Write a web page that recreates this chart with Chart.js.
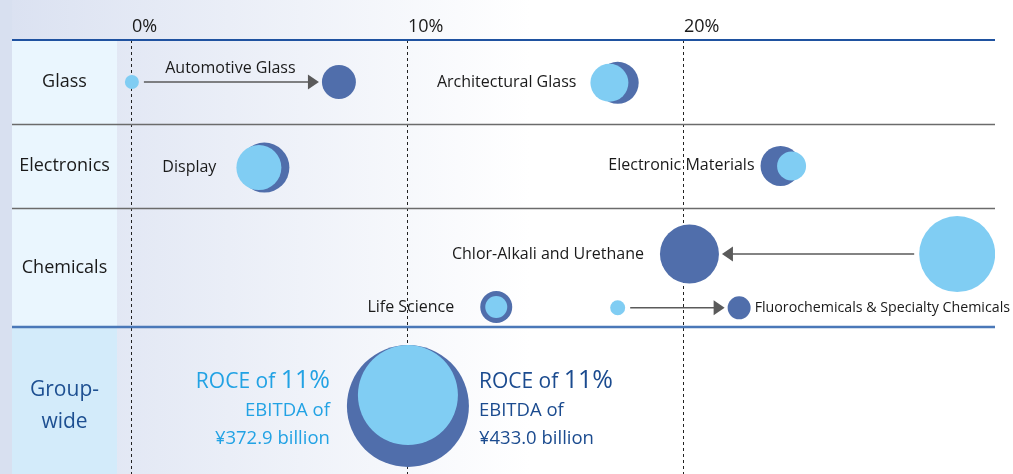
<!DOCTYPE html>
<html>
<head>
<meta charset="utf-8">
<script src="https://cdn.jsdelivr.net/npm/chart.js@4"></script>
<style>
  html, body { margin: 0; padding: 0; background: #fff; overflow: hidden; }
  canvas { display: block; }
</style>
</head>
<body>
<canvas id="roce" width="1013" height="474"></canvas>
<script>
// rows (left column) and where they sit on the y scale (1 unit = one short row)
const rows = ['Glass', 'Electronics', 'Chemicals', 'Group-wide']
const rowEdges = [0, 1, 2, 3.42, 5.17]

// segments, ROCE before (light) / after (dark), row position, bubble radius
const segments = ['Automotive Glass', 'Architectural Glass', 'Display', 'Electronic Materials',
                  'Chlor-Alkali and Urethane', 'Life Science', 'Fluorochemicals & Specialty Chemicals']
const roceBefore = [0.0, 17.3, 4.6, 23.9, 29.9, 13.2, 17.6]
const roceAfter  = [7.5, 17.6, 4.8, 23.5, 20.2, 13.2, 22.0]
const rowBefore  = [0.5, 0.51, 1.52, 1.5, 2.55, 3.18, 3.19]
const rowAfter   = [0.5, 0.51, 1.52, 1.5, 2.55, 3.18, 3.19]
const sizeBefore = [7, 19, 22.5, 14.5, 38, 11, 7.5]
const sizeAfter  = [17, 21, 25, 20, 29.5, 16, 11.5]
const arrows = [0, 4, 6]

// group-wide
const groupRoce = [10.0, 10.0]
const groupRow = [4.23, 4.36]
const groupSize = [50, 61]
const groupRoceText = ['11%', '11%']
const groupEbitda = ['¥372.9 billion', '¥433.0 billion']

const xTicks = [0, 10, 20]

// where each label sits next to its bubbles
const labelSide = ['above', 'left', 'left', 'left', 'left', 'left', 'right']
const labelGap  = [0, 14, 20, 6, 16, 26, 4]

const FONT = "'Open Sans', sans-serif"
const LIGHT = '#80cdf3'
const DARK = '#506eab'

function pts(xs, ys, rs){
    var out = []
    for(let i = 0; i < xs.length; i++){
        out.push({x: xs[i], y: ys[i], r: rs[i]})
    }
    return out
}

const fundo = {
    id: 'fundo',
    beforeDraw(chart){
        const ctx = chart.ctx
        const a = chart.chartArea
        const y = chart.scales.y
        ctx.save()
        const g = ctx.createLinearGradient(0, 0, 530, 0)
        g.addColorStop(0, '#dae1f1')
        g.addColorStop(1, '#ffffff')
        ctx.fillStyle = g
        ctx.fillRect(0, 0, chart.width, chart.height)
        ctx.fillStyle = '#d8e0f0'
        ctx.fillRect(0, 0, 12, chart.height)
        const yg = y.getPixelForValue(rowEdges[3])
        ctx.fillStyle = '#eaf6fe'
        ctx.fillRect(12, a.top, a.left - 12, yg - a.top)
        ctx.fillStyle = '#d3ebfa'
        ctx.fillRect(12, yg, a.left - 12, a.bottom - yg)
        ctx.restore()
    },
    beforeDatasetsDraw(chart){
        const ctx = chart.ctx
        const a = chart.chartArea
        const y = chart.scales.y
        ctx.save()
        // separators
        for(let i = 1; i < 3; i++){
            const py = Math.round(y.getPixelForValue(rowEdges[i])) + 0.5
            ctx.strokeStyle = '#6b6b6b'
            ctx.lineWidth = 1.5
            ctx.beginPath(); ctx.moveTo(12, py); ctx.lineTo(a.right, py); ctx.stroke()
        }
        let py = y.getPixelForValue(rowEdges[3])
        ctx.strokeStyle = '#4a78b8'
        ctx.lineWidth = 2.5
        ctx.beginPath(); ctx.moveTo(12, py); ctx.lineTo(a.right, py); ctx.stroke()
        ctx.strokeStyle = '#1f52a0'
        ctx.lineWidth = 2
        ctx.beginPath(); ctx.moveTo(12, a.top); ctx.lineTo(a.right, a.top); ctx.stroke()

        // row names
        ctx.textAlign = 'center'
        ctx.textBaseline = 'middle'
        ctx.fillStyle = '#1a1a1a'
        ctx.font = '18px ' + FONT
        const cx = (12 + a.left) / 2
        ctx.fillText(rows[0], cx, y.getPixelForValue(0.5))
        ctx.fillText(rows[1], cx, y.getPixelForValue(1.5))
        ctx.fillText(rows[2], cx, y.getPixelForValue(2.71))
        ctx.fillStyle = '#1d4f91'
        ctx.font = '21px ' + FONT
        ctx.fillText('Group-', cx, y.getPixelForValue(4.17))
        ctx.fillText('wide', cx, y.getPixelForValue(4.55))
        ctx.restore()
    },
    afterDatasetsDraw(chart){
        const ctx = chart.ctx
        const light = chart.getDatasetMeta(0).data
        const dark = chart.getDatasetMeta(1).data
        ctx.save()

        // arrows light -> dark
        ctx.strokeStyle = '#5a5a5a'
        ctx.fillStyle = '#5a5a5a'
        ctx.lineWidth = 1.5
        arrows.forEach(function(i){
            const p = light[i], q = dark[i]
            const dir = q.x > p.x ? 1 : -1
            const x0 = p.x + dir * (sizeBefore[i] + 5)
            const x1 = q.x - dir * (sizeAfter[i] + 3)
            const yy = q.y
            ctx.beginPath(); ctx.moveTo(x0, yy); ctx.lineTo(x1 - dir * 10, yy); ctx.stroke()
            ctx.beginPath()
            ctx.moveTo(x1, yy)
            ctx.lineTo(x1 - dir * 11, yy - 7.5)
            ctx.lineTo(x1 - dir * 11, yy + 7.5)
            ctx.closePath(); ctx.fill()
        })

        // segment labels
        ctx.fillStyle = '#1a1a1a'
        ctx.textBaseline = 'middle'
        segments.forEach(function(s, i){
            const p = light[i], q = dark[i]
            const left = Math.min(p.x - sizeBefore[i], q.x - sizeAfter[i])
            const right = Math.max(p.x + sizeBefore[i], q.x + sizeAfter[i])
            const yy = (p.y + q.y) / 2
            ctx.font = '16px ' + FONT
            if(labelSide[i] == 'above'){
                ctx.textAlign = 'center'
                ctx.fillText(s, (p.x + q.x) / 2 - 5, yy - 14)
            } else if(labelSide[i] == 'left'){
                ctx.textAlign = 'right'
                ctx.fillText(s, left - labelGap[i], yy)
            } else {
                // shrink to fit when it runs off the right edge
                const room = chart.width - 3 - (right + labelGap[i])
                const w = ctx.measureText(s).width
                if(w > room){
                    ctx.font = (16 * room / w).toFixed(2) + 'px ' + FONT
                }
                ctx.textAlign = 'left'
                ctx.fillText(s, right + labelGap[i], yy)
            }
        })

        // group-wide texts
        const gd = dark[segments.length]
        const gy = gd.y
        const colors = ['#22a2e4', '#1b4b8f']
        for(let k = 0; k < 2; k++){
            ctx.fillStyle = colors[k]
            ctx.textBaseline = 'alphabetic'
            const pre = 'ROCE of '
            ctx.font = '21px ' + FONT
            const w1 = ctx.measureText(pre).width
            ctx.font = '25px ' + FONT
            const w2 = ctx.measureText(groupRoceText[k]).width
            let xs
            if(k == 0){
                xs = gd.x - groupSize[1] - 17 - (w1 + w2)
            } else {
                xs = gd.x + groupSize[1] + 10
            }
            ctx.textAlign = 'left'
            ctx.font = '21px ' + FONT
            ctx.fillText(pre, xs, gy - 18)
            ctx.font = '25px ' + FONT
            ctx.fillText(groupRoceText[k], xs + w1, gy - 18)
            ctx.font = '18.5px ' + FONT
            ctx.textBaseline = 'middle'
            if(k == 0){
                ctx.textAlign = 'right'
                ctx.fillText('EBITDA of', xs + w1 + w2, gy + 5)
                ctx.fillText(groupEbitda[k], xs + w1 + w2, gy + 33)
            } else {
                ctx.fillText('EBITDA of', xs, gy + 5)
                ctx.fillText(groupEbitda[k], xs, gy + 33)
            }
        }
        ctx.restore()
    }
}

const ctx = document.getElementById('roce').getContext('2d')
const myChart = new Chart(ctx, {
    type: 'bubble',
    data: {
        datasets: [{
            label: 'Before',
            data: pts(roceBefore.concat([groupRoce[0]]), rowBefore.concat([groupRow[0]]), sizeBefore.concat([groupSize[0]])),
            backgroundColor: LIGHT,
            borderWidth: 0
        }, {
            label: 'After',
            data: pts(roceAfter.concat([groupRoce[1]]), rowAfter.concat([groupRow[1]]), sizeAfter.concat([groupSize[1]])),
            backgroundColor: DARK,
            borderWidth: 0
        }]
    },
    options: {
        responsive: false,
        animation: false,
        events: [],
        layout: { autoPadding: false, padding: { left: 117, right: 18, top: 0, bottom: 0 } },
        plugins: { legend: { display: false }, tooltip: { enabled: false } },
        scales: {
            x: {
                type: 'linear',
                position: 'top',
                min: -0.54,
                max: 31.27,
                afterBuildTicks: function(s){ s.ticks = xTicks.map(v => ({value: v})) },
                afterFit: function(s){ s.height = 40 },
                ticks: {
                    align: 'start',
                    padding: 2,
                    color: '#1a1a1a',
                    font: { family: FONT, size: 18 },
                    callback: v => v + '%'
                },
                grid: { color: '#222', lineWidth: 1, drawTicks: false },
                border: { display: false, dash: [3, 3] }
            },
            y: {
                type: 'linear',
                display: false,
                reverse: true,
                min: rowEdges[0],
                max: rowEdges[4]
            }
        }
    },
    plugins: [fundo]
});
</script>
</body>
</html>
